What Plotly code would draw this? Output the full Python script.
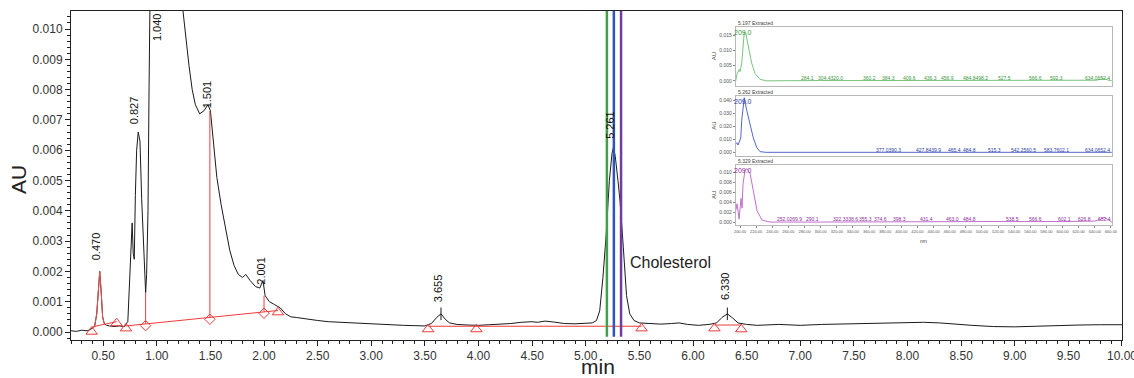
import plotly.graph_objects as go

# ---------------- main chromatogram (time in min, absorbance in AU) ----------------
time_min = [0.20, 0.25, 0.30, 0.35, 0.38, 0.40, 0.42, 0.44, 0.455, 0.468, 0.48, 0.495, 0.51, 0.53,
            0.56, 0.60, 0.65, 0.70, 0.73, 0.745, 0.76, 0.770, 0.780, 0.790, 0.800, 0.812, 0.827,
            0.843, 0.859, 0.874, 0.888, 0.896, 0.905, 0.918, 0.928, 0.935, 0.97, 1.04, 1.12, 1.20,
            1.244, 1.27, 1.30, 1.33, 1.36, 1.40, 1.44, 1.477, 1.50, 1.53, 1.56, 1.60, 1.64, 1.68,
            1.72, 1.76, 1.80, 1.83, 1.87, 1.92, 1.96, 1.99, 2.01, 2.05, 2.10, 2.15, 2.20, 2.25,
            2.30, 2.40, 2.50, 2.60, 2.70, 2.80, 2.90, 3.00, 3.10, 3.20, 3.30, 3.40, 3.50, 3.56,
            3.61, 3.65, 3.69, 3.73, 3.80, 3.90, 4.00, 4.10, 4.20, 4.30, 4.40, 4.50, 4.55, 4.62,
            4.70, 4.80, 4.90, 5.00, 5.06, 5.10, 5.13, 5.16, 5.19, 5.22, 5.245, 5.258, 5.275, 5.30,
            5.32, 5.35, 5.38, 5.41, 5.45, 5.50, 5.60, 5.70, 5.80, 5.87, 5.95, 6.05, 6.15, 6.22,
            6.27, 6.32, 6.37, 6.42, 6.50, 6.60, 6.80, 7.00, 7.20, 7.50, 7.80, 8.00, 8.15, 8.30,
            8.45, 8.60, 8.80, 9.00, 9.20, 9.40, 9.60, 9.80, 10.00]
au = [0.00004, 0.00002, 0.00006, 0.00004, 0.00008, 0.00012, 0.00018, 0.0006, 0.0015, 0.0020, 0.0014,
      0.0005, 0.00028, 0.00022, 0.0002, 0.00018, 0.0002, 0.00018, 0.00035, 0.0017, 0.0030, 0.0036,
      0.0026, 0.0024, 0.0045, 0.0060, 0.0066, 0.0063, 0.0044, 0.0030, 0.0015, 0.0013, 0.0019,
      0.0040, 0.0081, 0.015, 0.035, 0.045, 0.030, 0.016, 0.0106, 0.0097, 0.0088, 0.0080, 0.0075,
      0.0072, 0.0073, 0.0075, 0.0073, 0.0062, 0.0051, 0.0042, 0.0034, 0.0027, 0.0022, 0.0019,
      0.0018, 0.0019, 0.0017, 0.0015, 0.00145, 0.0017, 0.0012, 0.0010, 0.0009, 0.0008, 0.0006,
      0.0005, 0.00048, 0.00042, 0.00038, 0.00034, 0.00032, 0.0003, 0.00028, 0.00027, 0.00025,
      0.00024, 0.00022, 0.00021, 0.0002, 0.00028, 0.00048, 0.0006, 0.00042, 0.0003, 0.00025,
      0.00023, 0.00022, 0.00024, 0.00025, 0.00028, 0.00032, 0.00034, 0.00032, 0.00036, 0.00033,
      0.00028, 0.00027, 0.00028, 0.0003, 0.00038, 0.0007, 0.0018, 0.0032, 0.0050, 0.0059, 0.0061,
      0.0058, 0.0050, 0.0043, 0.0028, 0.0012, 0.0006, 0.00038, 0.0003, 0.00027, 0.00026, 0.00028,
      0.0003, 0.00025, 0.00022, 0.00025, 0.0003, 0.00048, 0.0006, 0.00046, 0.0003, 0.00025,
      0.00022, 0.00025, 0.00022, 0.00025, 0.00027, 0.0003, 0.0003, 0.00032, 0.0003, 0.00025,
      0.00022, 0.00018, 0.00017, 0.00019, 0.00022, 0.00023, 0.00024, 0.00024]

# integrated peak drawn in red (0.470 min)
red_peak_from, red_peak_to = 0.40, 0.51

# peak labels
peak_rt = [0.470, 0.827, 1.040, 1.501, 2.001, 3.655, 5.261, 6.330]
peak_text = ["0.470", "0.827", "1.040", "1.501", "2.001", "3.655", "5.261", "6.330"]
peak_label_au = [0.0023, 0.0068, None, 0.0073, 0.0015, 0.0009, 0.0063, 0.0010]

# apex tick marks
apex_rt = [3.650, 6.320]
apex_au = [0.0006, 0.0006]

# integration baselines (start t, start AU, end t, end AU)
base_t0 = [0.40, 0.713, 3.53, 6.20]
base_y0 = [0.00017, 0.0002, 0.00019, 0.00023]
base_t1 = [0.625, 2.13, 5.52, 6.45]
base_y1 = [0.00034, 0.00071, 0.00019, 0.00023]

# drop lines
drop_t = [0.896, 1.495, 2.000]
drop_lo = [0.00027, 0.00049, 0.00067]
drop_hi = [0.0013, 0.0073, 0.0012]

# baseline event markers
tri_t = [0.393, 0.625, 0.713, 2.13, 3.53, 3.98, 5.52, 6.20, 6.45]
tri_au = [0.00001, 0.00029, 0.00012, 0.00065, 0.00009, 0.00009, 0.00012, 0.00012, 0.00009]
dia_t = [0.896, 1.495, 2.000]
dia_au = [0.00021, 0.00042, 0.00062]

# extracted spectra times
ext_rt = [5.197, 5.262, 5.329]
ext_title = ["5.197 Extracted", "5.262 Extracted", "5.329 Extracted"]
ext_line_col = ["#43a047", "#2f55b8", "#6f3fa0"]

# ---------------- inset spectra (nm, AU) ----------------
g_nm = [194.7, 196.5, 198.8, 200.0, 202.1, 204.1, 205.3, 207.1, 210.3, 214.5, 218.6, 224.8, 233.1,
        260, 300, 350, 400, 450, 500, 550, 600, 630, 642, 648, 652, 656, 661]
g_au = [0.0, 0.0025, 0.0037, 0.0030, 0.0058, 0.0134, 0.0161, 0.0156, 0.0112, 0.0058, 0.0024, 0.0005,
        0.0, 0.0001, 0.0001, 0.0001, 0.0001, 0.0001, 0.0001, 0.0001, 0.0001, 0.0001, 0.0002, 0.0006,
        0.0007, 0.0003, 0.0]
b_nm = [194.7, 195.9, 197.5, 200.9, 202.1, 205.3, 208.3, 212.4, 216.5, 220.7, 224.8, 232, 300, 400,
        500, 600, 640, 650, 655, 661]
b_au = [0.0065, 0.0074, 0.0056, 0.011, 0.0247, 0.042, 0.0323, 0.022, 0.011, 0.0038, 0.0005, 0.0,
        0.0, 0.0001, 0.0001, 0.0001, 0.0002, 0.0004, 0.0003, 0.0]
p_nm = [194.7, 196.3, 198.8, 201.2, 202.5, 203.7, 206.2, 208.7, 212.4, 216.1, 221.1, 227.3, 237.2,
        300, 400, 500, 600, 640, 648, 652, 656, 661]
p_au = [0.0023, 0.0037, 0.0006, 0.0048, 0.0028, 0.0077, 0.0105, 0.0108, 0.0099, 0.0063, 0.0023,
        0.0004, 0.0, 0.0, 0.0001, 0.0001, 0.0001, 0.0002, 0.0006, 0.0009, 0.0005, 0.0]

g_peaks = [284.1, 304.4, 320.0, 360.2, 384.3, 409.6, 436.3, 456.9, 484.8, 498.2, 527.5, 566.6, 592.3,
           634.0, 652.4]
b_peaks = [377.0, 390.3, 427.8, 439.9, 465.4, 484.8, 515.3, 542.2, 560.5, 583.7, 602.1, 634.0, 652.4]
p_peaks = [252.0, 269.9, 290.1, 322.3, 338.6, 355.3, 374.6, 398.3, 431.4, 463.0, 484.8, 538.5, 566.6,
           602.1, 626.8, 652.4]
max_nm = 209.0

nm_ticks = list(range(200, 661, 20))

# ---------------- figure ----------------
W, H = 1134, 378
L, R, T, B = 71, 12, 11, 38
XR = [0.2, 10.0001]
YR = [-0.000264, 0.010594]
FONT = "Liberation Sans, Arial, sans-serif"


def group_peaks(peaks, gap):
    """Pair neighbouring peak labels that the software prints run together."""
    groups = []
    for w in peaks:
        if groups and len(groups[-1]) == 1 and w - groups[-1][-1] < gap:
            groups[-1].append(w)
        else:
            groups.append([w])
    return [(sum(g) / len(g), "".join("%.1f" % v for v in g)) for g in groups]


fig = go.Figure()

# main trace
fig.add_trace(go.Scatter(x=time_min, y=au, mode="lines",
                         line=dict(color="#1a1a1a", width=1), hoverinfo="skip", showlegend=False))
# red integrated peak
rx = [t for t in time_min if red_peak_from <= t <= red_peak_to]
ry = [v for t, v in zip(time_min, au) if red_peak_from <= t <= red_peak_to]
fig.add_trace(go.Scatter(x=rx, y=ry, mode="lines", line=dict(color="#f05050", width=1),
                         showlegend=False, hoverinfo="skip"))
# baselines
for a, b_, c, d in zip(base_t0, base_y0, base_t1, base_y1):
    fig.add_trace(go.Scatter(x=[a, c], y=[b_, d], mode="lines", line=dict(color="#f03a3a", width=1),
                             showlegend=False, hoverinfo="skip"))
# drop lines
for t, lo, hi in zip(drop_t, drop_lo, drop_hi):
    fig.add_trace(go.Scatter(x=[t, t], y=[lo, hi], mode="lines", line=dict(color="#f03a3a", width=1),
                             showlegend=False, hoverinfo="skip"))
# markers
fig.add_trace(go.Scatter(x=tri_t, y=tri_au, mode="markers",
                         marker=dict(symbol="triangle-up-open", size=10, color="#f03a3a",
                                     line=dict(width=1, color="#f03a3a")),
                         showlegend=False, hoverinfo="skip", cliponaxis=False))
fig.add_trace(go.Scatter(x=dia_t, y=dia_au, mode="markers",
                         marker=dict(symbol="diamond-open", size=8, color="#f03a3a",
                                     line=dict(width=1, color="#f03a3a")),
                         showlegend=False, hoverinfo="skip"))
fig.add_trace(go.Scatter(x=apex_rt, y=apex_au, mode="markers",
                         marker=dict(symbol="line-ns-open", size=9, color="#1a1a1a",
                                     line=dict(width=1, color="#1a1a1a")),
                         showlegend=False, hoverinfo="skip"))

# extracted-spectrum time markers
shapes = []
for t, c in zip(ext_rt, ext_line_col):
    shapes.append(dict(type="line", xref="x", yref="paper", x0=t, x1=t, y0=0.01, y1=1,
                       line=dict(color=c, width=2.5), layer="above"))

annotations = []
for t, txt, ly in zip(peak_rt, peak_text, peak_label_au):
    if ly is None:
        annotations.append(dict(x=t, y=YR[1], xref="x", yref="y", text=txt, textangle=-90,
                                showarrow=False, xanchor="center", yanchor="top", xshift=-4,
                                font=dict(family=FONT, size=11, color="#111")))
    else:
        annotations.append(dict(x=t, y=ly, xref="x", yref="y", text=txt, textangle=-90,
                                showarrow=False, xanchor="center", yanchor="bottom", xshift=-4,
                                font=dict(family=FONT, size=11, color="#111")))
annotations.append(dict(x=5.39, y=0.00228, xref="x", yref="y", text="Cholesterol", showarrow=False,
                        xanchor="left", yanchor="middle", font=dict(family=FONT, size=16, color="#222")))
annotations.append(dict(x=-53 / 1051, y=0.486, xref="paper", yref="paper", text="AU", textangle=-90,
                        showarrow=False, xanchor="center", yanchor="middle",
                        font=dict(family=FONT, size=21, color="#222")))
annotations.append(dict(x=0.5014, y=-38 / 329, xref="paper", yref="paper", text="min", showarrow=False,
                        xanchor="center", yanchor="bottom", yshift=-2,
                        font=dict(family=FONT, size=21, color="#222")))

# ---------------- inset ----------------
ix0, ix1 = 0.6325, 0.9905
panels = [
    dict(nm=g_nm, au=g_au, peaks=g_peaks, dom=[0.772, 0.9523], rng=[-0.0017, 0.0178],
         ticks=[0.0, 0.005, 0.010, 0.015], col="#78c47e", tcol="#3d9a3d", lab_frac=0.14),
    dict(nm=b_nm, au=b_au, peaks=b_peaks, dom=[0.5602, 0.7416], rng=[-0.0026, 0.0433],
         ticks=[0.0, 0.010, 0.020, 0.030, 0.040], col="#5566c8", tcol="#2c3fa8", lab_frac=0.10),
    dict(nm=p_nm, au=p_au, peaks=p_peaks, dom=[0.3495, 0.5319], rng=[-0.0006, 0.01155],
         ticks=[0.0, 0.002, 0.004, 0.006, 0.008, 0.010], col="#c070cc", tcol="#8e2e9e", lab_frac=0.10),
]
small = dict(family=FONT, size=5, color="#555")
for i, p in enumerate(panels):
    k = i + 2
    xa, ya = "x%d" % k, "y%d" % k
    fig.add_trace(go.Scatter(x=p["nm"], y=p["au"], mode="lines", xaxis=xa, yaxis=ya,
                             line=dict(color=p["col"], width=1), showlegend=False, hoverinfo="skip"))
    fig.layout["xaxis%d" % k] = dict(domain=[ix0, ix1], anchor=ya, range=[194.7, 661.3],
                                     showline=True, mirror=True, linecolor="#b8b8b8", linewidth=1,
                                     showgrid=False, zeroline=False, tickvals=nm_ticks,
                                     ticktext=["%.2f" % v for v in nm_ticks],
                                     showticklabels=(i == 2), ticks="outside" if i == 2 else "",
                                     ticklen=2, tickcolor="#888",
                                     tickfont=dict(family=FONT, size=4, color="#555"), tickangle=0)
    fig.layout["yaxis%d" % k] = dict(domain=p["dom"], anchor=xa, range=p["rng"], showline=True,
                                     mirror=True, linecolor="#b8b8b8", linewidth=1, showgrid=False,
                                     zeroline=False, tickvals=p["ticks"],
                                     ticktext=["%.3f" % v for v in p["ticks"]], ticks="outside",
                                     ticklen=2, tickcolor="#888", tickfont=small)
    span = p["rng"][1] - p["rng"][0]
    ly = p["rng"][0] + p["lab_frac"] * span
    for cx, txt in group_peaks(p["peaks"], 19):
        annotations.append(dict(x=cx, y=ly, xref=xa, yref=ya, text=txt, showarrow=False,
                                xanchor="center", yanchor="middle",
                                font=dict(family=FONT, size=5, color=p["tcol"])))
    annotations.append(dict(x=max_nm, y=p["rng"][1], xref=xa, yref=ya, text="%.1f" % max_nm,
                            showarrow=False, xanchor="center", yanchor="top", xshift=-4,
                            font=dict(family=FONT, size=7, color=p["tcol"])))
    annotations.append(dict(x=ix0, y=p["dom"][1], xref="paper", yref="paper", text=ext_title[i],
                            showarrow=False, xanchor="left", yanchor="bottom", yshift=-1,
                            font=dict(family=FONT, size=5, color="#444")))
    annotations.append(dict(x=0.6118, y=sum(p["dom"]) / 2, xref="paper", yref="paper", text="AU",
                            textangle=-90, showarrow=False, xanchor="center", yanchor="middle",
                            font=dict(family=FONT, size=6, color="#444")))
annotations.append(dict(x=0.8116, y=0.300, xref="paper", yref="paper", text="nm", showarrow=False,
                        xanchor="center", yanchor="middle",
                        font=dict(family=FONT, size=5, color="#444")))

fig.update_layout(
    width=W, height=H, margin=dict(l=L, r=R, t=T, b=B, autoexpand=False),
    paper_bgcolor="white", plot_bgcolor="white",
    font=dict(family=FONT, color="#333"),
    showlegend=False,
    shapes=shapes, annotations=annotations,
    xaxis=dict(domain=[0, 1], range=XR, tick0=0, dtick=0.5, tickformat=".2f",
               showline=True, linecolor="#222", linewidth=1, mirror=True, automargin=False,
               ticks="outside", ticklen=5, tickcolor="#222", showgrid=False, zeroline=False,
               ticklabeloverflow="allow",
               tickfont=dict(family=FONT, size=12, color="#333"),
               minor=dict(dtick=0.1, tick0=0, ticks="outside", ticklen=3, tickcolor="#222")),
    yaxis=dict(domain=[0, 1], range=YR, tick0=0, dtick=0.001, tickformat=".3f",
               showline=True, linecolor="#222", linewidth=1, mirror=True, automargin=False,
               ticks="outside", ticklen=5, tickcolor="#222", showgrid=False, zeroline=False,
               tickfont=dict(family=FONT, size=12, color="#333"),
               minor=dict(dtick=0.0002, tick0=0, ticks="outside", ticklen=3, tickcolor="#222")),
)

fig.write_html("out.html", config={"displayModeBar": False},
               post_script="document.body.style.margin='0px';")
